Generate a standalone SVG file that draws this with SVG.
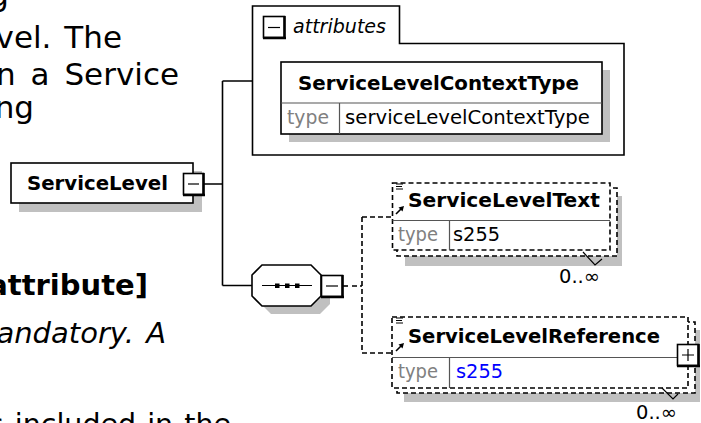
<svg xmlns="http://www.w3.org/2000/svg" width="701" height="423" viewBox="0 0 701 423">
<style>
.pg{font-family:"DejaVu Sans",Verdana,sans-serif;font-size:31px;fill:#000}
.pgb{font-family:"DejaVu Sans",Verdana,sans-serif;font-size:29px;font-weight:bold;fill:#000}
.pgi{font-family:"DejaVu Sans",Verdana,sans-serif;font-size:29px;font-style:italic;word-spacing:3px;fill:#000}
.b{font-family:"DejaVu Sans",Verdana,sans-serif;font-weight:bold;font-size:19px;fill:#000}
.r{font-family:"DejaVu Sans",Verdana,sans-serif;font-size:19px;fill:#000}
.i{font-family:"DejaVu Sans",Verdana,sans-serif;font-size:19px;font-style:italic;fill:#000}
.t{fill:#808080}
.ln{stroke:#000;stroke-width:1.6;fill:none}
.dl{stroke:#000;stroke-width:1.6;fill:none;stroke-dasharray:5,3}
.sh{fill:#c0c0c0;stroke:none}
.box{fill:#fff;stroke:#000;stroke-width:1.6}
.dbox{fill:#fff;stroke:#000;stroke-width:1.6;stroke-dasharray:5,3}
.div{stroke:#555;stroke-width:1.2;fill:none}
.thin{stroke:#000;stroke-width:1.2;fill:none}
</style>

<g id="page-text">
<text class="pg" x="9" y="6" text-anchor="end">g</text>
<text class="pg" x="122" y="48" text-anchor="end" style="word-spacing:3px">vel. The</text>
<text class="pg" x="179" y="85" text-anchor="end" style="word-spacing:5px">n a Service</text>
<text class="pg" x="34" y="118" text-anchor="end">ng</text>
<text class="pgb" x="148" y="295" text-anchor="end">attribute]</text>
<text class="pgi" x="166" y="343" text-anchor="end">andatory. A</text>
<text class="pg" x="231" y="434" text-anchor="end" style="font-size:28.5px;word-spacing:2px">s included in the</text>
</g>

<g id="connectors">
<path class="ln" d="M204,184 H222.5 M222.5,81 V285.5 M222.5,81 H252.5 M222.5,285.5 H252"/>
<path class="ln" d="M343,286 H348"/>
<path class="dl" d="M352,286 H362 M362,217 V353 M362,217 H392 M362,353 H392"/>
</g>

<g id="ServiceLevel">
<rect class="sh" x="19" y="171" width="183" height="41"/>
<rect class="box" x="11" y="163" width="182" height="40"/>
<text class="b" x="27" y="190" textLength="141" lengthAdjust="spacingAndGlyphs">ServiceLevel</text>
<rect class="box" x="183.5" y="173.5" width="20" height="21"/>
<path d="M203.5,173 V196 M183,195 H205" stroke="#000" stroke-width="2.5"/>
<path class="thin" d="M188,184 H199"/>
</g>

<g id="attributes">
<path class="box" d="M252.5,6 H399.5 V43.5 H624 V155 H252.5 Z"/>
<rect class="box" x="263.5" y="16.5" width="21" height="21"/>
<path d="M284.5,16 V39 M263,38 H286" stroke="#000" stroke-width="2.5"/>
<path class="thin" d="M268,27.5 H280"/>
<text class="i" x="293" y="33" textLength="93" lengthAdjust="spacingAndGlyphs">attributes</text>
</g>

<g id="ServiceLevelContextType">
<rect class="sh" x="289" y="70" width="321" height="72"/>
<rect class="box" x="281" y="62" width="321" height="72"/>
<path class="div" d="M281,103 H602 M339.5,103 V134"/>
<text class="b" x="298" y="90" textLength="281" lengthAdjust="spacingAndGlyphs">ServiceLevelContextType</text>
<text class="r t" x="287" y="124" textLength="42" lengthAdjust="spacingAndGlyphs">type</text>
<text class="r" x="345" y="124" textLength="245" lengthAdjust="spacingAndGlyphs">serviceLevelContextType</text>
</g>

<g id="sequence">
<polygon class="sh" points="271,273 320,273 330,283 330,304 320,314 271,314 261,304 261,283"/>
<polygon class="box" points="262,265 311,265 321,275 321,296 311,306 262,306 252,296 252,275"/>
<path class="thin" d="M262,285.5 H312"/>
<rect x="275" y="283.5" width="4.5" height="4.5" fill="#000"/>
<rect x="285" y="283.5" width="4.5" height="4.5" fill="#000"/>
<rect x="295" y="283.5" width="4.5" height="4.5" fill="#000"/>
<rect class="box" x="321.5" y="275.5" width="21" height="21"/>
<path d="M342.5,275 V298 M321,297 H344" stroke="#000" stroke-width="2.5"/>
<path class="thin" d="M326,286 H338"/>
</g>

<g id="ServiceLevelText">
<rect class="sh" x="405" y="196" width="217" height="70"/>
<rect class="dbox" x="397" y="188" width="220" height="68"/>
<rect class="dbox" x="392.5" y="183" width="217.5" height="67"/>
<path class="thin" d="M396,184 H403 M396,186.5 H402 M396,189 H403"/>
<path d="M396,214 L402,208" stroke="#000" stroke-width="1.6"/>
<path d="M404,206 L398.5,207.5 L402.5,211.5 Z" fill="#000"/>
<text class="b" x="408" y="207" textLength="192" lengthAdjust="spacingAndGlyphs">ServiceLevelText</text>
<path class="div" d="M392.5,220.5 H610 M449.5,220.5 V250"/>
<text class="r t" x="398" y="241" textLength="40" lengthAdjust="spacingAndGlyphs">type</text>
<text class="r" x="453" y="241" textLength="47" lengthAdjust="spacingAndGlyphs">s255</text>
<path class="thin" d="M583,252 L595,265 L602,259"/>
<text class="r" x="559" y="283" textLength="41" lengthAdjust="spacingAndGlyphs">0..∞</text>
</g>

<g id="ServiceLevelReference">
<rect class="sh" x="404" y="330" width="296" height="72"/>
<rect class="dbox" x="397" y="322" width="298" height="71"/>
<rect class="dbox" x="392" y="317" width="296" height="71"/>
<path class="thin" d="M396,318 H403 M396,320.5 H402 M396,323 H403"/>
<path d="M396,351 L402,345" stroke="#000" stroke-width="1.6"/>
<path d="M404,343 L398.5,344.5 L402.5,348.5 Z" fill="#000"/>
<text class="b" x="408" y="343" textLength="252" lengthAdjust="spacingAndGlyphs">ServiceLevelReference</text>
<path class="div" d="M392,357.5 H677 M449.5,357.5 V388"/>
<text class="r t" x="398" y="378" textLength="40" lengthAdjust="spacingAndGlyphs">type</text>
<text class="r" x="456" y="378" style="fill:#0000ff" textLength="47" lengthAdjust="spacingAndGlyphs">s255</text>
<rect class="box" x="677.5" y="344.5" width="21" height="21"/>
<path d="M698.5,344 V367 M677,366 H700" stroke="#000" stroke-width="2.5"/>
<path class="thin" d="M682,355 H694 M688,349 V361"/>
<path class="thin" d="M662,388 L673,399 L678,394"/>
<text class="r" x="636" y="419" textLength="41" lengthAdjust="spacingAndGlyphs">0..∞</text>
</g>
</svg>
